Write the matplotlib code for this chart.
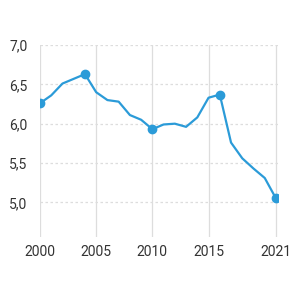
import matplotlib
matplotlib.use("Agg")
import matplotlib.pyplot as plt

years = list(range(2000, 2022))
values = [6.26, 6.36, 6.51, 6.57, 6.63, 6.40, 6.30, 6.28, 6.11, 6.05, 5.93,
          5.99, 6.00, 5.96, 6.08, 6.33, 6.37, 5.76, 5.56, 5.43, 5.31, 5.05]
marked_years = [2000, 2004, 2010, 2016, 2021]
xticks = [2000, 2005, 2010, 2015, 2021]
yticks = [5.0, 5.5, 6.0, 6.5, 7.0]

plt.rcParams['font.family'] = ['Roboto', 'DejaVu Sans']
color = '#2b9bd8'

fig = plt.figure(figsize=(3, 3), dpi=100)
ax = fig.add_axes([40/300, 63/300, 238/300, 192/300])

ax.plot(years, values, color=color, linewidth=1.6, zorder=3)
mv = [values[years.index(y)] for y in marked_years]
ax.plot(marked_years, mv, 'o', color=color, markersize=6, zorder=4)

ax.set_xlim(2000, 2021.18)
ax.set_ylim(4.56, 7.0)
ax.set_xticks(xticks)
ax.set_yticks(yticks)
ax.set_yticklabels([f"{v:.1f}".replace('.', ',') for v in yticks])

for x in xticks:
    ax.axvline(x, color='#dddddd', linewidth=0.9, zorder=1)
for y in yticks:
    ax.axhline(y, color='#dddddd', linewidth=0.9, linestyle=(0, (2, 2)), zorder=1)

for s in ax.spines.values():
    s.set_visible(False)
ax.tick_params(length=0, labelsize=10, colors='#333333')
ax.tick_params(axis='y', pad=9)
ax.tick_params(axis='x', pad=6)

fig.savefig('out.png', dpi=100)
